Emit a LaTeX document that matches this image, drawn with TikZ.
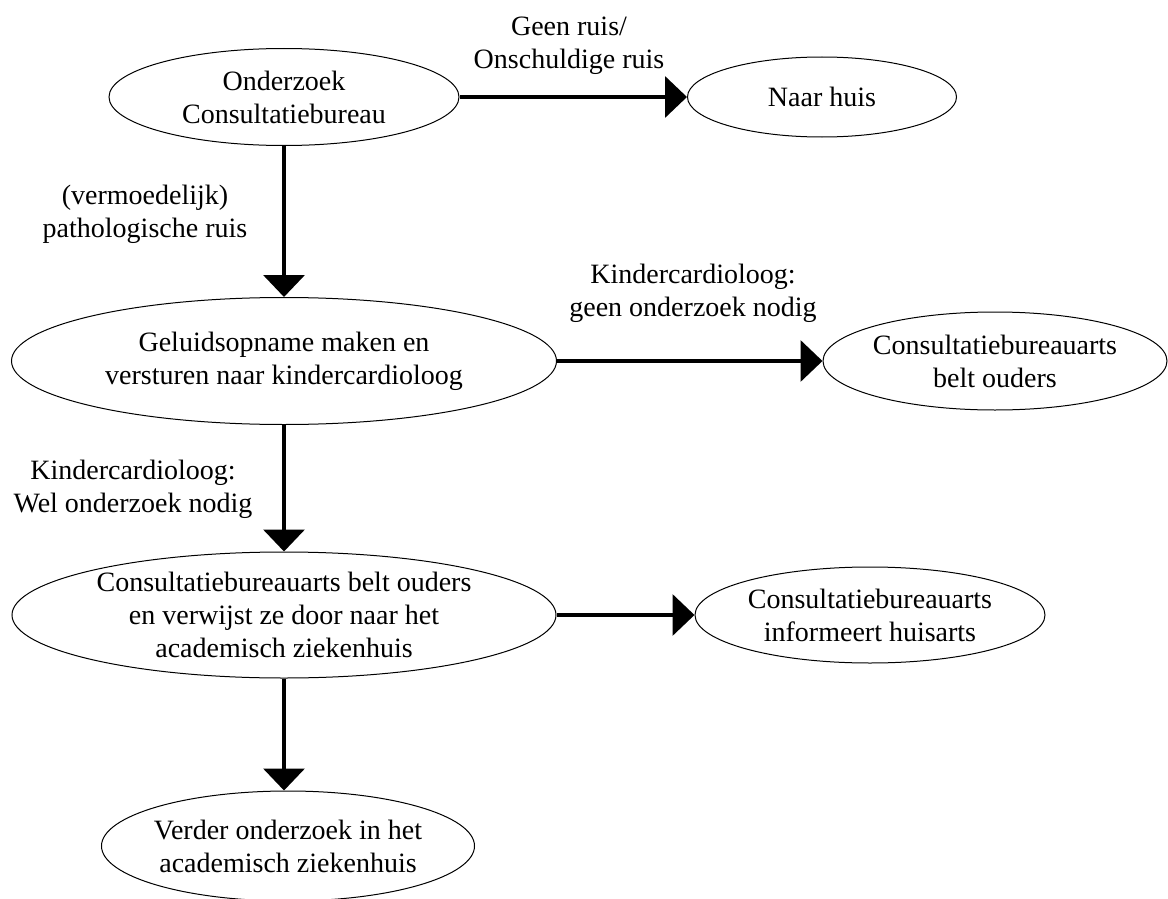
\documentclass[tikz,border=0pt]{standalone}
\usepackage{fontspec}
\setmainfont{Liberation Serif}
\usetikzlibrary{arrows.meta,positioning,shapes.geometric}

\begin{document}
\begin{tikzpicture}[x=1pt, y=-1pt,
    state/.style={ellipse, draw, line width=1pt, inner xsep=-30pt, inner ysep=-8pt,
        align=center, font=\fontsize{28}{33}\selectfont},
    cond/.style={align=center, font=\fontsize{28}{33}\selectfont},
    flow/.style={-{Triangle[length=22pt, width=41pt]}, line width=3.8pt}]
    \useasboundingbox (0, 0) rectangle (1168, 899);

    % left column
    \node[state, minimum width=350, minimum height=97] (onderzoek) at (284, 97)
        {Onderzoek\\Consultatiebureau};
    \node[state, minimum width=545, minimum height=127] (opname) at (284, 361)
        {Geluidsopname maken en\\versturen naar kindercardioloog};
    \node[state, minimum width=544, minimum height=126] (verwijs) at (284, 615)
        {Consultatiebureauarts belt ouders\\en verwijst ze door naar het\\academisch ziekenhuis};
    \node[state, minimum width=373, minimum height=110] (verder) at (288, 846)
        {Verder onderzoek in het\\academisch ziekenhuis};

    % right column
    \node[state, minimum width=269, minimum height=80] (huis) at (822, 97) {Naar huis};
    \node[state, minimum width=344, minimum height=98] (belt) at (995, 361)
        {Consultatiebureauarts\\belt ouders};
    \node[state, minimum width=350, minimum height=96] (huisarts) at (870, 615)
        {Consultatiebureauarts\\informeert huisarts};

    % arrows
    \draw[flow] (onderzoek) -- (huis);
    \draw[flow] (onderzoek) -- (opname);
    \draw[flow] (opname) -- (belt);
    \draw[flow] (opname) -- (verwijs);
    \draw[flow] (verwijs) -- (huisarts);
    \draw[flow] (verwijs) -- (verwijs |- verder.north);

    % conditions
    \node[cond] (geenruis) at (569, 46) {Geen ruis/\\Onschuldige ruis};
    \node[cond] (patho) at (145, 214) {(vermoedelijk)\\pathologische ruis};
    \node[cond] (geenonderzoek) at (693, 293) {Kindercardioloog:\\geen onderzoek nodig};
    \node[cond] (welonderzoek) at (133, 489) {Kindercardioloog:\\Wel onderzoek nodig};
\end{tikzpicture}
\end{document}
